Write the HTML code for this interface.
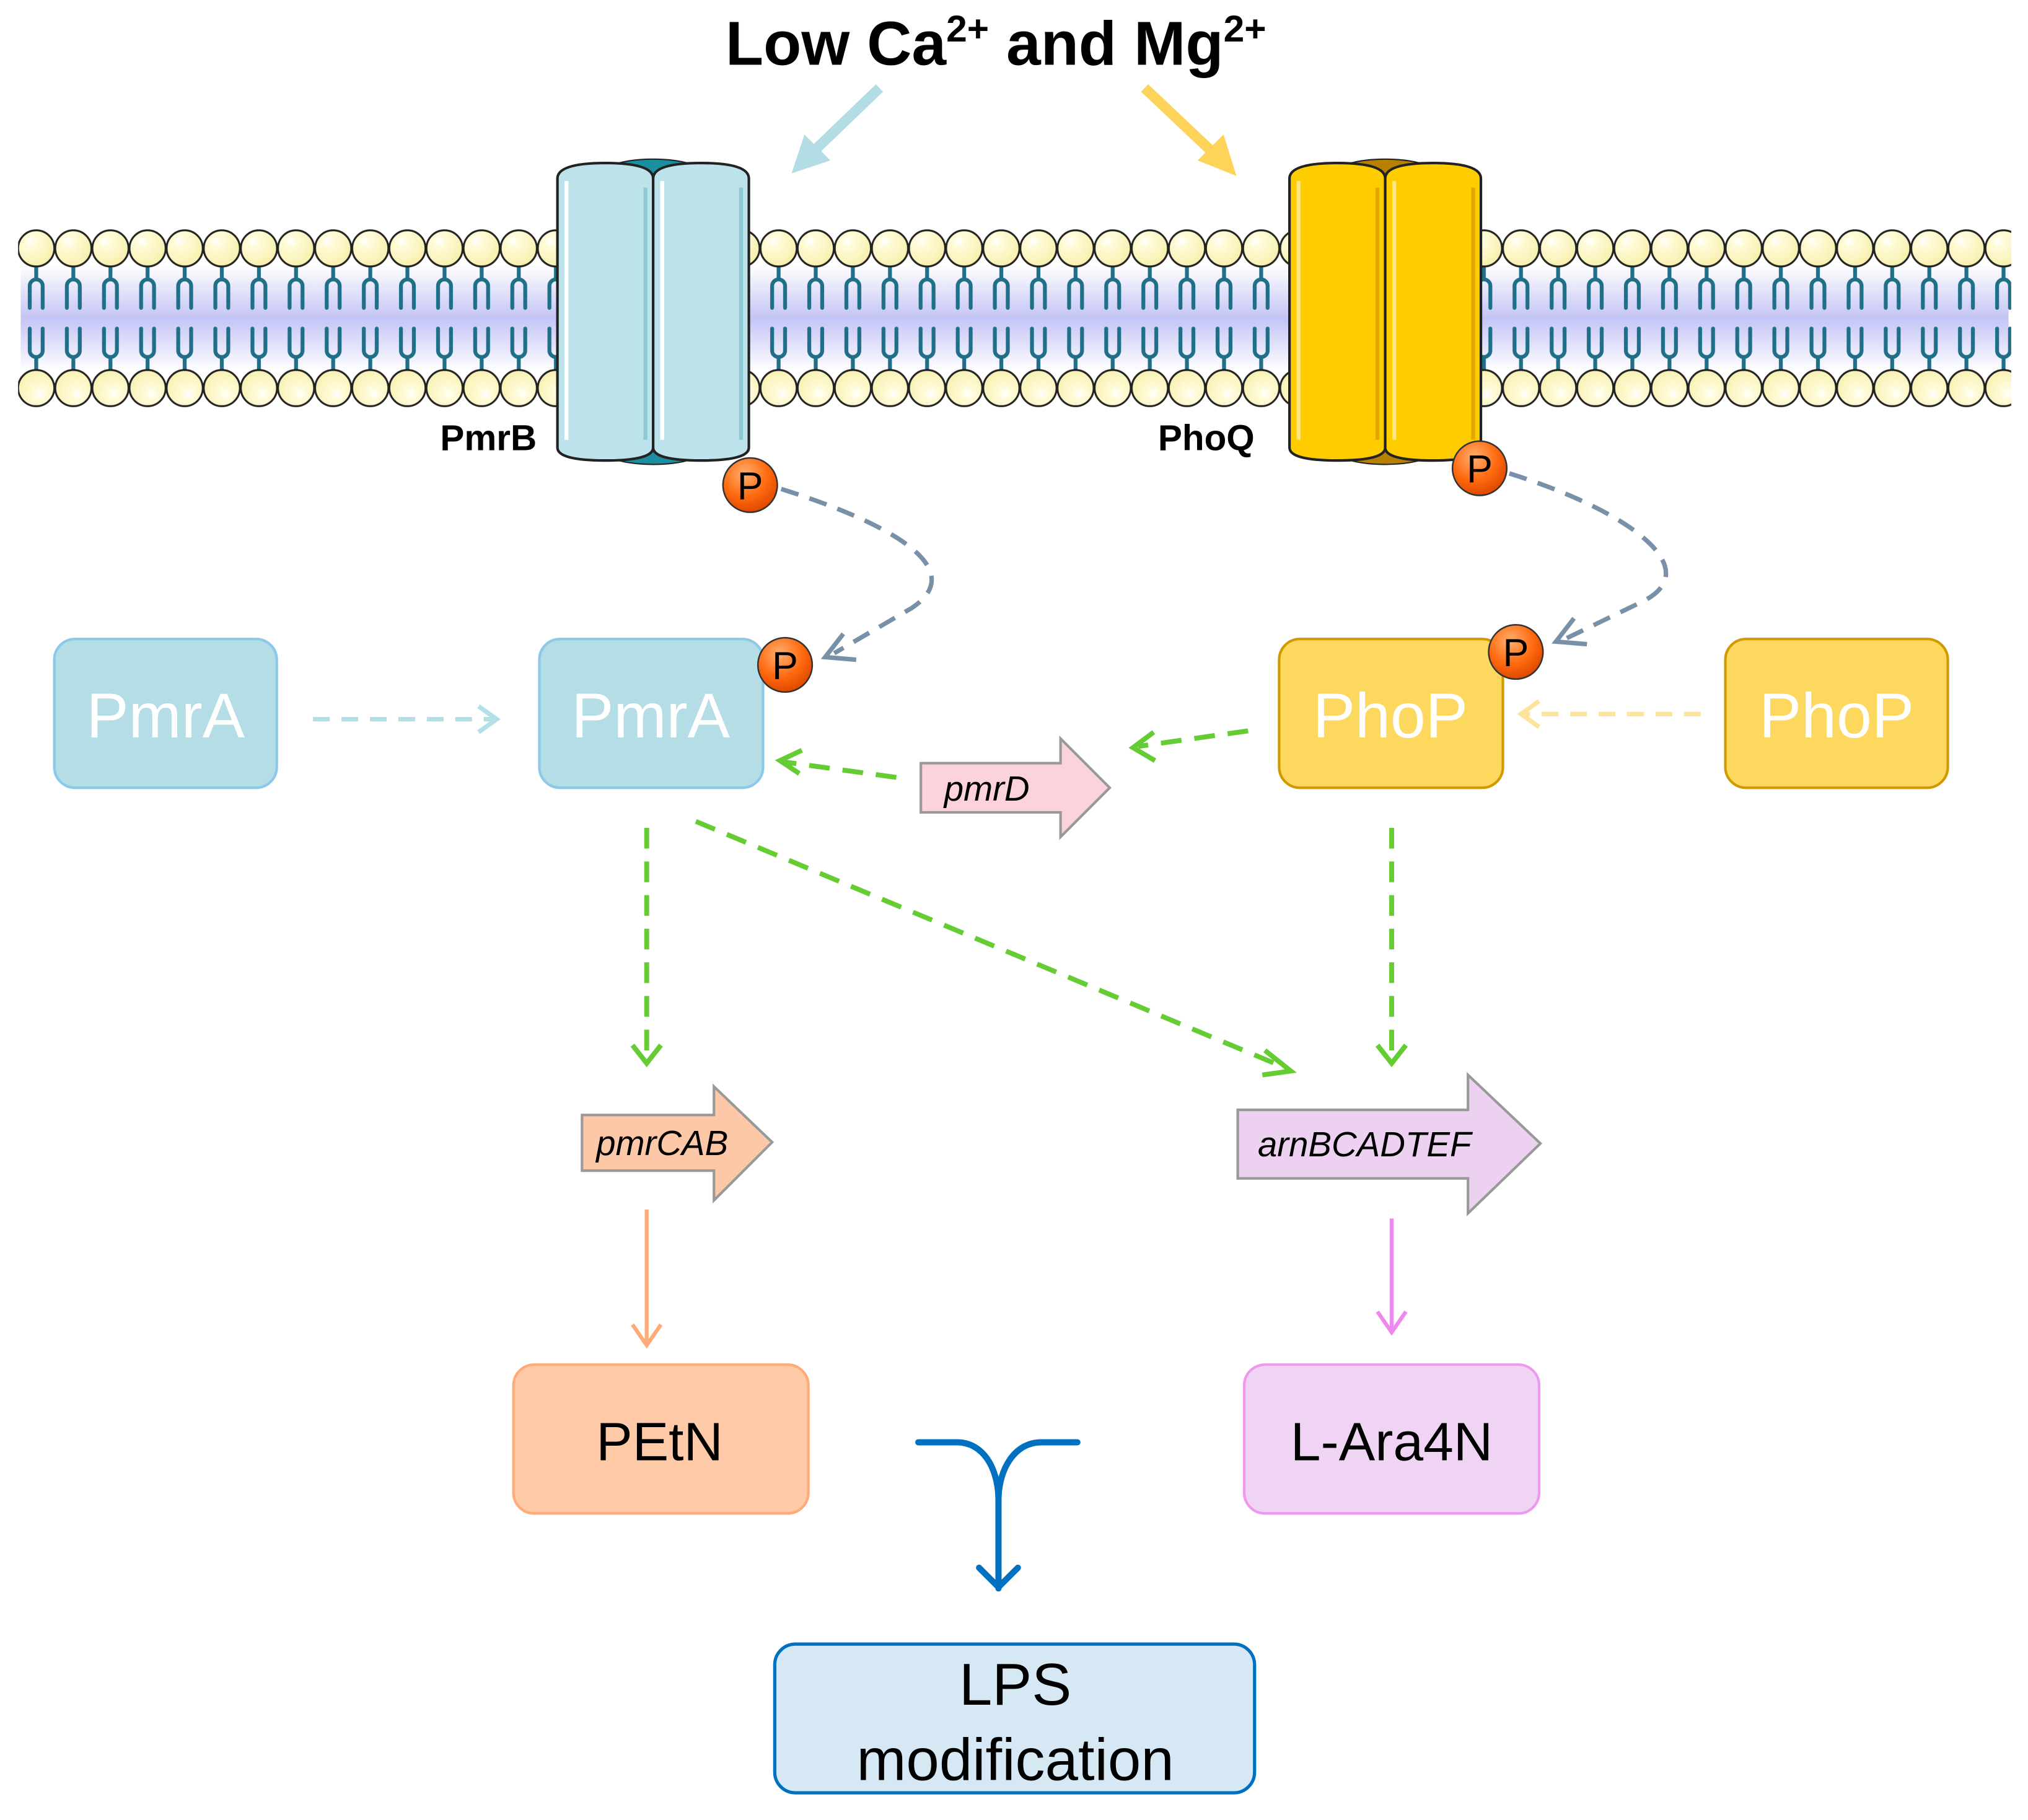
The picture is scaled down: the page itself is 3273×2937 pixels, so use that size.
<!DOCTYPE html>
<html><head><meta charset="utf-8"><style>html,body{margin:0;padding:0;background:#fff}svg{display:block}</style></head>
<body>
<svg width="3273" height="2937" viewBox="0 0 1568 1407" xmlns="http://www.w3.org/2000/svg" font-family="Liberation Sans, Arial, sans-serif">
<defs>
<linearGradient id="band" x1="0" y1="0" x2="0" y2="1">
<stop offset="0" stop-color="#fff"/><stop offset="0.5" stop-color="#c4c4f6"/><stop offset="1" stop-color="#fff"/></linearGradient>
<radialGradient id="head" cx="0.35" cy="0.3" r="0.7"><stop offset="0" stop-color="#fff"/><stop offset="0.25" stop-color="#fffbd8"/><stop offset="1" stop-color="#f7f0b0"/></radialGradient>
<radialGradient id="headb" cx="0.6" cy="0.65" r="0.7"><stop offset="0" stop-color="#fff"/><stop offset="0.25" stop-color="#fffbd8"/><stop offset="1" stop-color="#f7f0b0"/></radialGradient>
<radialGradient id="pg" cx="0.4" cy="0.3" r="0.7"><stop offset="0" stop-color="#ffb070"/><stop offset="0.6" stop-color="#ff6a10"/><stop offset="1" stop-color="#e04a00"/></radialGradient>
<pattern id="lipids" x="13.65" y="175" width="28.7" height="142" patternUnits="userSpaceOnUse">
<path d="M14.35,31 v10 M9.35,63 v-17 a5,5 0 0 1 10,0 v17" fill="none" stroke="#1f6f88" stroke-width="3" stroke-linecap="round"/>
<path d="M14.35,111 v-10 M9.35,79 v17 a5,5 0 0 0 10,0 v-17" fill="none" stroke="#1f6f88" stroke-width="3" stroke-linecap="round"/>
<circle cx="14.35" cy="17" r="14" fill="url(#head)" stroke="#222" stroke-width="1.5"/>
<circle cx="14.35" cy="125" r="14" fill="url(#headb)" stroke="#222" stroke-width="1.5"/>
</pattern>
</defs>

<text x="770" y="50" font-size="48" font-weight="bold" text-anchor="middle">Low Ca<tspan font-size="29" dy="-18">2+</tspan><tspan dy="18"> and Mg</tspan><tspan font-size="29" dy="-18">2+</tspan></text>

<line x1="680" y1="68" x2="628" y2="118" stroke="#b3dde5" stroke-width="8"/>
<polygon points="612,134 622,104 642,124" fill="#b3dde5"/>
<line x1="885" y1="68" x2="940" y2="120" stroke="#fdd35a" stroke-width="8"/>
<polygon points="956,136 926,124 946,104" fill="#fdd35a"/>

<rect x="16" y="205" width="1537" height="82" fill="url(#band)"/>
<rect x="14" y="175" width="1541" height="142" fill="url(#lipids)"/>

<ellipse cx="505" cy="135" rx="40" ry="12" fill="#1a8fa0" stroke="#222"/>
<ellipse cx="505" cy="347" rx="40" ry="12" fill="#1a8fa0" stroke="#222"/>
<path d="M431,138 q0,-12 37,-12 q37,0 37,12 v208 q0,10 -37,10 q-37,0 -37,-10z" fill="#bde3ea" stroke="#222" stroke-width="2"/>
<path d="M505,138 q0,-12 37,-12 q37,0 37,12 v208 q0,10 -37,10 q-37,0 -37,-10z" fill="#bde3ea" stroke="#222" stroke-width="2"/>
<path d="M438,140 v200 M512,140 v200" stroke="#fff" stroke-width="3"/>
<path d="M499,145 v195 M573,145 v195" stroke="#8ccbd6" stroke-width="3"/>
<text x="415" y="348" font-size="28" font-weight="bold" text-anchor="end">PmrB</text>

<ellipse cx="1071" cy="135" rx="40" ry="12" fill="#b88000" stroke="#222"/>
<ellipse cx="1071" cy="347" rx="40" ry="12" fill="#b88000" stroke="#222"/>
<path d="M997,138 q0,-12 37,-12 q37,0 37,12 v208 q0,10 -37,10 q-37,0 -37,-10z" fill="#ffcc00" stroke="#222" stroke-width="2"/>
<path d="M1071,138 q0,-12 37,-12 q37,0 37,12 v208 q0,10 -37,10 q-37,0 -37,-10z" fill="#ffcc00" stroke="#222" stroke-width="2"/>
<path d="M1004,140 v200 M1078,140 v200" stroke="#ffe680" stroke-width="3"/>
<path d="M1065,145 v195 M1139,145 v195" stroke="#e0a800" stroke-width="3"/>
<text x="970" y="348" font-size="28" font-weight="bold" text-anchor="end">PhoQ</text>

<path d="M604,378 C690,405 750,440 705,470 L645,505" fill="none" stroke="#7890a8" stroke-width="3.5" stroke-dasharray="14,9"/>
<path d="M652,490 L638,508 L662,510" fill="none" stroke="#7890a8" stroke-width="3.5"/>
<path d="M1167,366 C1260,395 1320,440 1270,465 L1210,494" fill="none" stroke="#7890a8" stroke-width="3.5" stroke-dasharray="14,9"/>
<path d="M1217,478 L1203,496 L1227,498" fill="none" stroke="#7890a8" stroke-width="3.5"/>

<rect x="42" y="494" width="172" height="115" rx="16" fill="#b5dde6" stroke="#8cc8e8" stroke-width="2"/>
<text x="128" y="570" font-size="49" fill="#fff" text-anchor="middle">PmrA</text>
<rect x="417" y="494" width="173" height="115" rx="16" fill="#b5dde6" stroke="#8cc8e8" stroke-width="2"/>
<text x="503" y="570" font-size="49" fill="#fff" text-anchor="middle">PmrA</text>
<rect x="989" y="494" width="173" height="115" rx="16" fill="#fdd85e" stroke="#d09a00" stroke-width="2"/>
<text x="1075" y="570" font-size="49" fill="#fff" text-anchor="middle">PhoP</text>
<rect x="1334" y="494" width="172" height="115" rx="16" fill="#fdd85e" stroke="#d09a00" stroke-width="2"/>
<text x="1420" y="570" font-size="49" fill="#fff" text-anchor="middle">PhoP</text>

<g font-size="30">
<circle cx="580" cy="375" r="21" fill="url(#pg)" stroke="#333" stroke-width="1.2"/><text x="580" y="386" text-anchor="middle">P</text>
<circle cx="1144" cy="362" r="21" fill="url(#pg)" stroke="#333" stroke-width="1.2"/><text x="1144" y="373" text-anchor="middle">P</text>
<circle cx="607" cy="514" r="21" fill="url(#pg)" stroke="#333" stroke-width="1.2"/><text x="607" y="525" text-anchor="middle">P</text>
<circle cx="1172" cy="504" r="21" fill="url(#pg)" stroke="#333" stroke-width="1.2"/><text x="1172" y="515" text-anchor="middle">P</text>
</g>

<line x1="242" y1="556" x2="382" y2="556" stroke="#b3e0e6" stroke-width="3.5" stroke-dasharray="13,9"/>
<path d="M370,546 L384,556 L370,566" fill="none" stroke="#b3e0e6" stroke-width="3.5"/>
<line x1="1315" y1="552" x2="1178" y2="552" stroke="#fde49a" stroke-width="3.5" stroke-dasharray="13,9"/>
<path d="M1190,542 L1176,552 L1190,562" fill="none" stroke="#fde49a" stroke-width="3.5"/>

<polygon points="712,590 820,590 820,571 858,609 820,647 820,628 712,628" fill="#fcd3dc" stroke="#999" stroke-width="2"/>
<text x="763" y="619" font-size="27" font-style="italic" text-anchor="middle">pmrD</text>

<g stroke="#66cc33" stroke-width="3.8" fill="none">
<line x1="965" y1="565" x2="880" y2="577" stroke-dasharray="16,10"/>
<path d="M892,566 L876,578 L893,588"/>
<line x1="693" y1="601" x2="606" y2="589" stroke-dasharray="16,10"/>
<path d="M620,580 L603,588 L618,598"/>
<line x1="500" y1="640" x2="500" y2="820" stroke-dasharray="16,10"/>
<path d="M489,808 L500,822 L511,808"/>
<line x1="538" y1="635" x2="995" y2="826" stroke-dasharray="16,10"/>
<path d="M978,812 L998,828 L976,831"/>
<line x1="1076" y1="640" x2="1076" y2="820" stroke-dasharray="16,10"/>
<path d="M1065,808 L1076,822 L1087,808"/>
</g>

<polygon points="450,862 552,862 552,840 597,883 552,928 552,905 450,905" fill="#fdc8a8" stroke="#999" stroke-width="2"/>
<text x="512" y="893" font-size="27" font-style="italic" text-anchor="middle">pmrCAB</text>
<polygon points="957,858 1135,858 1135,831 1191,884 1135,938 1135,911 957,911" fill="#ecd2f0" stroke="#999" stroke-width="2"/>
<text x="1055" y="894" font-size="27" font-style="italic" text-anchor="middle">arnBCADTEF</text>

<line x1="500" y1="935" x2="500" y2="1038" stroke="#ffaa77" stroke-width="3"/>
<path d="M489,1024 L500,1040 L511,1024" fill="none" stroke="#ffaa77" stroke-width="3"/>
<line x1="1076" y1="942" x2="1076" y2="1028" stroke="#ee88ee" stroke-width="3"/>
<path d="M1065,1014 L1076,1030 L1087,1014" fill="none" stroke="#ee88ee" stroke-width="3"/>

<rect x="397" y="1055" width="228" height="115" rx="16" fill="#ffcaa8" stroke="#ffaa77" stroke-width="2"/>
<text x="510" y="1129" font-size="42" text-anchor="middle">PEtN</text>
<rect x="962" y="1055" width="228" height="115" rx="16" fill="#f0d4f4" stroke="#ee99ee" stroke-width="2"/>
<text x="1076" y="1129" font-size="42" text-anchor="middle">L-Ara4N</text>

<g stroke="#0070c0" stroke-width="4.8" fill="none" stroke-linecap="round" stroke-linejoin="round">
<path d="M710,1115 H740 C760,1115 772,1135 772,1160 V1228"/>
<path d="M833,1115 H805 C785,1115 772,1135 772,1160"/>
<path d="M757,1212 L772,1227 L787,1212"/>
</g>

<rect x="599" y="1271" width="371" height="115" rx="16" fill="#d7e8f5" stroke="#0070c0" stroke-width="2.5"/>
<text x="785" y="1318" font-size="46" text-anchor="middle">LPS</text>
<text x="785" y="1376" font-size="46" text-anchor="middle">modification</text>
</svg>
</body></html>
